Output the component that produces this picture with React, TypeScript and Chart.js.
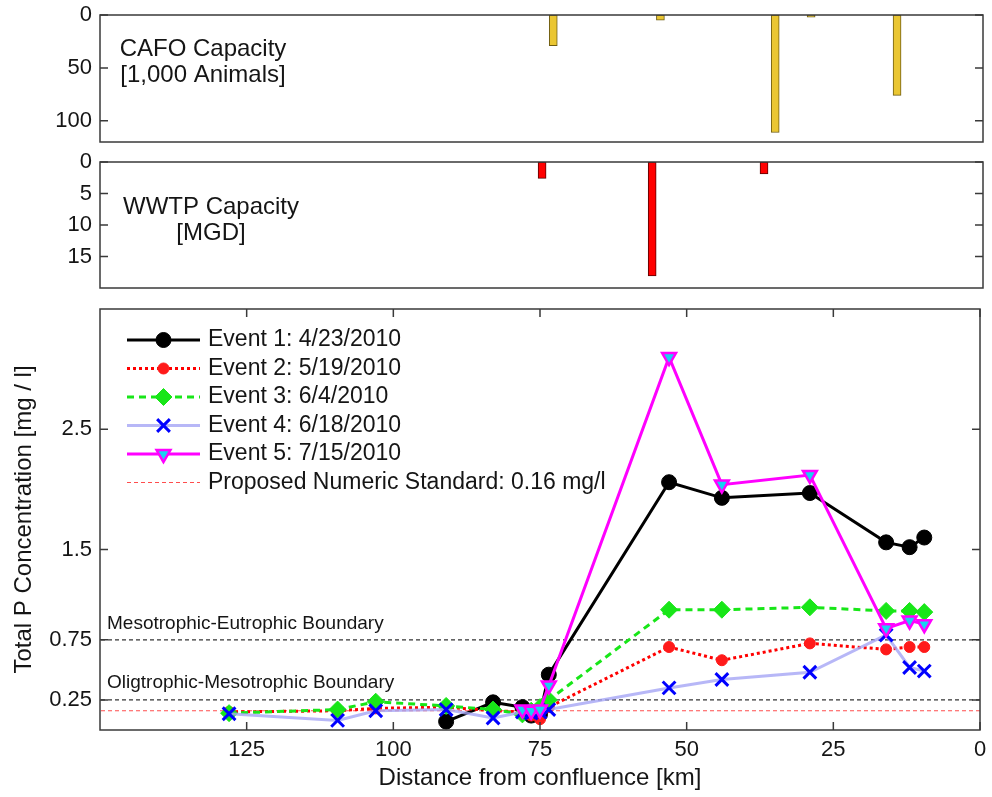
import React, { useEffect, useRef } from 'react';
import { Chart, registerables } from 'chart.js';
import { drawPoint } from 'chart.js/helpers';

Chart.register(...registerables);

const FONT = "'Liberation Sans', Arial, Helvetica, sans-serif";
const TEXT = '#151515';

// ---------------- data ----------------
const cafoKm = [73, 54.8, 35.3, 29.2, 14.6];
const cafoCapacity = [29, 5, 111, 2, 76];
const cafoTicks = [0, 50, 100];

const wwtpKm = [74.9, 56.2, 37.2];
const wwtpCapacity = [2.6, 18.1, 1.9];
const wwtpTicks = [0, 5, 10, 15];

const siteKm = [128, 109.5, 103, 91, 83, 78, 76.5, 75, 73.5, 53, 44, 29, 16, 12, 9.5];
const event1 = [null, null, null, 0.07, 0.23, 0.19, 0.12, 0.13, 0.46, 2.06, 1.93, 1.97, 1.56, 1.52, 1.6];
const event2 = [0.15, 0.16, 0.18, 0.19, 0.16, 0.15, 0.12, 0.09, 0.19, 0.69, 0.58, 0.72, 0.67, 0.69, 0.69];
const event3 = [0.14, 0.17, 0.235, 0.2, 0.17, 0.13, 0.16, 0.19, 0.25, 1.0, 1.0, 1.02, 0.99, 0.99, 0.98];
const event4 = [0.135, 0.08, 0.16, 0.17, 0.1, 0.15, 0.14, 0.15, 0.17, 0.35, 0.42, 0.48, 0.79, 0.52, 0.49];
const event5 = [null, null, null, null, null, 0.17, 0.16, 0.17, 0.37, 3.1, 2.04, 2.12, 0.845, 0.91, 0.88];

const legendLabels = [
  'Event 1: 4/23/2010',
  'Event 2: 5/19/2010',
  'Event 3: 6/4/2010',
  'Event 4: 6/18/2010',
  'Event 5: 7/15/2010',
  'Proposed Numeric Standard: 0.16 mg/l',
];

const distTicks = [0, 25, 50, 75, 100, 125];
const distRange = [0, 150];
const concTicks = [0.25, 0.75, 1.5, 2.5];
const concRange = [0, 3.5];
const standardValue = 0.16;
const mesoEutroBoundary = 0.75;
const oligoMesoBoundary = 0.25;

// ---------------- plugins ----------------
function framePlugin(xTicks: boolean) {
  return {
    id: 'frame',
    afterDraw(chart: any) {
      const { ctx, chartArea } = chart;
      const { left, right, top, bottom } = chartArea;
      ctx.save();
      ctx.strokeStyle = '#3a3a3a';
      ctx.lineWidth = 1.5;
      ctx.setLineDash([]);
      ctx.strokeRect(left, top, right - left, bottom - top);
      const L = 8;
      ctx.beginPath();
      const ys = chart.scales.y;
      ys.ticks.forEach((t: any) => {
        const p = ys.getPixelForValue(t.value);
        ctx.moveTo(left, p);
        ctx.lineTo(left + L, p);
        ctx.moveTo(right, p);
        ctx.lineTo(right - L, p);
      });
      if (xTicks) {
        const xs = chart.scales.x;
        xs.ticks.forEach((t: any) => {
          const p = xs.getPixelForValue(t.value);
          ctx.moveTo(p, bottom);
          ctx.lineTo(p, bottom - L);
          ctx.moveTo(p, top);
          ctx.lineTo(p, top + L);
        });
      }
      ctx.stroke();
      ctx.restore();
    },
  };
}

function panelLabel(lines: string[], dx: number, dy: number[]) {
  return {
    id: 'panelLabel',
    afterDraw(chart: any) {
      const { ctx, chartArea } = chart;
      ctx.save();
      ctx.font = `24px ${FONT}`;
      ctx.fillStyle = TEXT;
      ctx.textAlign = 'center';
      ctx.textBaseline = 'middle';
      lines.forEach((s, i) => ctx.fillText(s, chartArea.left + dx, chartArea.top + dy[i]));
      ctx.restore();
    },
  };
}

const legendPlugin = {
  id: 'eventLegend',
  afterDraw(chart: any) {
    const { ctx, chartArea } = chart;
    const x0 = chartArea.left + 27;
    const x1 = chartArea.left + 100;
    const tx = chartArea.left + 108;
    chart.data.datasets.forEach((ds: any) => {
      const idx = legendLabels.indexOf(ds.label);
      if (idx < 0) return;
      const y = chartArea.top + 31 + idx * 28.5;
      ctx.save();
      ctx.strokeStyle = ds.borderColor;
      ctx.lineWidth = ds.borderWidth;
      ctx.setLineDash(ds.borderDash || []);
      ctx.beginPath();
      ctx.moveTo(x0, y);
      ctx.lineTo(x1, y);
      ctx.stroke();
      if (ds.pointRadius > 0) {
        ctx.setLineDash([]);
        ctx.fillStyle = ds.pointBackgroundColor;
        ctx.strokeStyle = ds.pointBorderColor;
        ctx.lineWidth = ds.pointBorderWidth;
        drawPoint(
          ctx,
          {
            pointStyle: ds.pointStyle,
            rotation: ds.pointRotation || 0,
            radius: ds.pointRadius,
            borderWidth: ds.pointBorderWidth,
          } as any,
          (x0 + x1) / 2,
          y
        );
      }
      ctx.fillStyle = TEXT;
      ctx.font = `23px ${FONT}`;
      ctx.textBaseline = 'middle';
      ctx.textAlign = 'left';
      ctx.fillText(ds.label, tx, y);
      ctx.restore();
    });
  },
};

const boundaryPlugin = {
  id: 'boundaryLabels',
  afterDatasetsDraw(chart: any) {
    const { ctx, chartArea, scales } = chart;
    const y = scales.y;
    ctx.save();
    ctx.font = `19px ${FONT}`;
    ctx.fillStyle = TEXT;
    ctx.textAlign = 'left';
    ctx.textBaseline = 'alphabetic';
    ctx.fillText('Mesotrophic-Eutrophic Boundary', chartArea.left + 7, y.getPixelForValue(mesoEutroBoundary) - 11);
    ctx.fillText('Oligtrophic-Mesotrophic Boundary', chartArea.left + 7, y.getPixelForValue(oligoMesoBoundary) - 12);
    ctx.restore();
  },
};

// ---------------- helpers ----------------
const fixTicks = (vals: number[]) => (s: any) => {
  s.ticks = vals.map((v) => ({ value: v }));
};

const yAxisWidth = (w: number) => (s: any) => {
  s.width = w;
  s.paddingTop = 0;
  s.paddingBottom = 0;
};

function barPanelConfig(km: number[], vals: number[], ticks: number[], max: number, fill: string, edge: string, labelPlugin: any, padTop: number, padBottom: number) {
  return {
    type: 'bar',
    data: {
      datasets: [
        {
          data: km.map((x, i) => ({ x, y: vals[i] })),
          backgroundColor: fill,
          borderColor: edge,
          borderWidth: 1,
          borderSkipped: false,
          barThickness: 8,
        },
      ],
    },
    options: {
      animation: false,
      responsive: false,
      maintainAspectRatio: false,
      layout: { padding: { top: padTop, bottom: padBottom, left: 0, right: 9 } },
      plugins: { legend: { display: false }, tooltip: { enabled: false } },
      scales: {
        x: {
          type: 'linear',
          min: distRange[0],
          max: distRange[1],
          reverse: true,
          offset: false,
          display: false,
        },
        y: {
          type: 'linear',
          min: 0,
          max,
          reverse: true,
          grid: { display: false, drawTicks: false },
          border: { display: false },
          afterBuildTicks: fixTicks(ticks),
          afterFit: yAxisWidth(100),
          ticks: { font: { family: FONT, size: 22 }, color: TEXT, padding: 8 },
        },
      },
    },
    plugins: [framePlugin(false), labelPlugin],
  } as any;
}

const pts = (vals: (number | null)[]) =>
  siteKm.map((x, i) => ({ x, y: vals[i] })).filter((p) => p.y !== null);

export default function App() {
  const c1 = useRef<HTMLCanvasElement>(null);
  const c2 = useRef<HTMLCanvasElement>(null);
  const c3 = useRef<HTMLCanvasElement>(null);

  useEffect(() => {
    const ch1 = new Chart(
      c1.current!,
      barPanelConfig(cafoKm, cafoCapacity, cafoTicks, 120, '#EAC632', '#6e5c12',
        panelLabel(['CAFO Capacity', '[1,000 Animals]'], 103, [34, 60]), 15, 8)
    );
    const ch2 = new Chart(
      c2.current!,
      barPanelConfig(wwtpKm, wwtpCapacity, wwtpTicks, 20, '#FF0000', '#5a0000',
        panelLabel(['WWTP Capacity', '[MGD]'], 111, [45, 71]), 12, 7)
    );

    const lineFlat = (v: number) => [
      { x: distRange[0], y: v },
      { x: distRange[1], y: v },
    ];

    const ch3 = new Chart(c3.current!, {
      type: 'line',
      data: {
        datasets: [
          {
            label: legendLabels[0],
            data: pts(event1),
            borderColor: '#000000',
            borderWidth: 3,
            pointStyle: 'circle',
            pointRadius: 7.5,
            pointBackgroundColor: '#000000',
            pointBorderColor: '#000000',
            pointBorderWidth: 1,
            order: 5,
          },
          {
            label: legendLabels[1],
            data: pts(event2),
            borderColor: '#FF0000',
            borderWidth: 3,
            borderDash: [3, 3],
            pointStyle: 'circle',
            pointRadius: 5.5,
            pointBackgroundColor: '#FF1a1a',
            pointBorderColor: '#FF1a1a',
            pointBorderWidth: 1,
            order: 4,
          },
          {
            label: legendLabels[2],
            data: pts(event3),
            borderColor: '#18E618',
            borderWidth: 3,
            borderDash: [7, 5],
            pointStyle: 'rectRot',
            pointRadius: 8.5,
            pointBackgroundColor: '#18E618',
            pointBorderColor: '#18E618',
            pointBorderWidth: 1,
            order: 3,
          },
          {
            label: legendLabels[3],
            data: pts(event4),
            borderColor: 'rgba(165,165,245,0.8)',
            borderWidth: 3,
            pointStyle: 'crossRot',
            pointRadius: 9,
            pointBackgroundColor: '#0000FF',
            pointBorderColor: '#0000FF',
            pointBorderWidth: 3,
            order: 2,
          },
          {
            label: legendLabels[4],
            data: pts(event5),
            borderColor: '#FF00FF',
            borderWidth: 3,
            pointStyle: 'triangle',
            pointRotation: 180,
            pointRadius: 8,
            pointBackgroundColor: '#1AD0F0',
            pointBorderColor: '#FF00FF',
            pointBorderWidth: 2.5,
            order: 1,
          },
          {
            label: legendLabels[5],
            data: lineFlat(standardValue),
            borderColor: '#FF4d4d',
            borderWidth: 1.2,
            borderDash: [4, 3],
            pointRadius: 0,
            order: 10,
          },
          {
            label: 'Mesotrophic-Eutrophic Boundary',
            data: lineFlat(mesoEutroBoundary),
            borderColor: '#333333',
            borderWidth: 1.2,
            borderDash: [4, 3],
            pointRadius: 0,
            order: 11,
          },
          {
            label: 'Oligtrophic-Mesotrophic Boundary',
            data: lineFlat(oligoMesoBoundary),
            borderColor: '#333333',
            borderWidth: 1.2,
            borderDash: [4, 3],
            pointRadius: 0,
            order: 12,
          },
        ],
      },
      options: {
        animation: false,
        responsive: false,
        maintainAspectRatio: false,
        layout: { padding: { top: 14, right: 9, left: 0, bottom: 0 } },
        plugins: { legend: { display: false }, tooltip: { enabled: false } },
        scales: {
          x: {
            type: 'linear',
            min: distRange[0],
            max: distRange[1],
            reverse: true,
            offset: false,
            grid: { display: false, drawTicks: false },
            border: { display: false },
            afterBuildTicks: fixTicks(distTicks),
            afterFit: (s: any) => {
              s.height = 67;
              s.paddingLeft = 0;
              s.paddingRight = 0;
            },
            ticks: { font: { family: FONT, size: 22 }, color: TEXT, padding: 7, maxRotation: 0, autoSkip: false },
            title: {
              display: true,
              text: 'Distance from confluence [km]',
              font: { family: FONT, size: 24 },
              color: TEXT,
              padding: { top: 0, bottom: 4 },
            },
          },
          y: {
            type: 'linear',
            min: concRange[0],
            max: concRange[1],
            grid: { display: false, drawTicks: false },
            border: { display: false },
            afterBuildTicks: fixTicks(concTicks),
            afterFit: yAxisWidth(100),
            ticks: {
              font: { family: FONT, size: 22 },
              color: TEXT,
              padding: 8,
              callback: (v: any) => String(v),
            },
            title: {
              display: true,
              text: 'Total P Concentration [mg / l]',
              font: { family: FONT, size: 24 },
              color: TEXT,
              padding: { top: 10, bottom: 0 },
            },
          },
        },
      },
      plugins: [boundaryPlugin, framePlugin(true), legendPlugin],
    } as any);

    return () => {
      ch1.destroy();
      ch2.destroy();
      ch3.destroy();
    };
  }, []);

  return (
    <div style={{ position: 'absolute', left: 0, top: 0, width: 992, height: 797, background: '#fff' }}>
      <canvas ref={c1} width={992} height={150} style={{ position: 'absolute', left: 0, top: 0 }} />
      <canvas ref={c2} width={992} height={145} style={{ position: 'absolute', left: 0, top: 150 }} />
      <canvas ref={c3} width={992} height={502} style={{ position: 'absolute', left: 0, top: 295 }} />
    </div>
  );
}
